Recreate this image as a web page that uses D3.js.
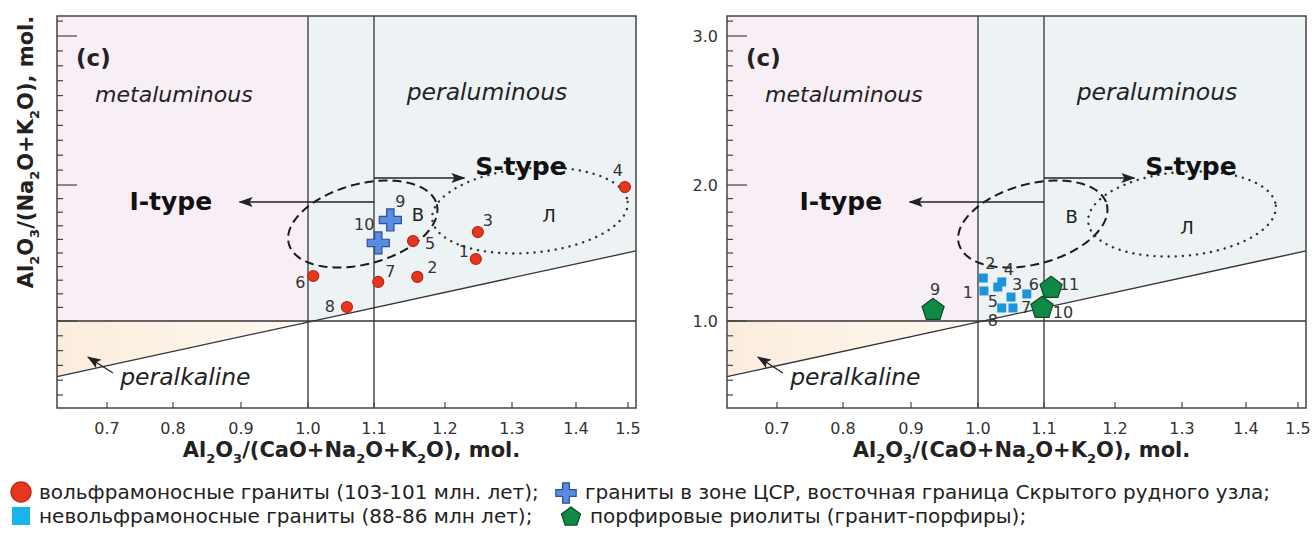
<!DOCTYPE html>
<html>
<head>
<meta charset="utf-8">
<script src="https://cdn.jsdelivr.net/npm/d3@7"></script>
<style>
  body { margin: 0; background: #fff; }
  svg { display: block; font-family: 'DejaVu Sans', sans-serif; }
</style>
</head>
<body>
<svg id="chart" width="1313" height="539"></svg>
<script>
// ---- data ----
const xTickValues = [0.7, 0.8, 0.9, 1.0, 1.1, 1.2, 1.3, 1.4, 1.5];
const xTickLabels = ['0.7', '0.8', '0.9', '1.0', '1.1', '1.2', '1.3', '1.4', '1.5'];
const yMajorTicks = [1.0, 2.0, 3.0];
const yTickLabels = ['1.0', '2.0', '3.0'];

// tungsten-bearing granites (103-101 Ma)
const wGraniteIds  = ['1', '2', '3', '4', '5', '6', '7', '8'];
const wGraniteACNK = [1.246, 1.161, 1.249, 1.494, 1.155, 1.008, 1.106, 1.059];
const wGraniteANK  = [1.456, 1.324, 1.654, 1.985, 1.588, 1.331, 1.287, 1.103];

// granites of the CSR zone
const csrIds  = ['9', '10'];
const csrACNK = [1.123, 1.106];
const csrANK  = [1.743, 1.574];

// non tungsten-bearing granites (88-86 Ma)
const nwGraniteIds  = ['1', '2', '3', '4', '5', '6', '7', '8'];
const nwGraniteACNK = [1.009, 1.008, 1.050, 1.036, 1.036, 1.074, 1.053, 1.030];
const nwGraniteANK  = [1.221, 1.316, 1.176, 1.287, 1.096, 1.199, 1.096, 1.250];

// porphyry rhyolites
const rhyoliteIds  = ['9', '11', '10'];
const rhyoliteACNK = [0.933, 1.110, 1.097];
const rhyoliteANK  = [1.081, 1.243, 1.096];

const legendLabels = [
  'вольфрамоносные граниты (103-101 млн. лет);',
  'граниты в зоне ЦСР, восточная граница Скрытого рудного узла;',
  'невольфрамоносные граниты (88-86 млн лет);',
  'порфировые риолиты (гранит-порфиры);'
];

// ---- layout ----
const svg = d3.select('#chart');
const panelW = 579, panelH = 392, panelTop = 16;

const x = d3.scaleLinear().domain(xTickValues)
  .range([50, 116, 184, 251, 317, 388, 455, 519, 571]);
const y = d3.scaleLinear().domain([0.5, 1, 2, 3]).range([379, 305, 169, 20]);
const xMin = x.invert(0), xMax = x.invert(panelW);
const yMin = y.invert(panelH), yMax = y.invert(0);

const colors = {
  pink: '#f8eef6', blue: '#edf2f5',
  red: '#e8351d', redStroke: '#b3261a',
  cross: '#5a8de0', crossStroke: '#2b4f9e',
  square: '#1c94dc',
  green: '#0f8a46', greenStroke: '#0a4a27'
};

const symbolPentagon = {
  draw(context, size) {
    const r = Math.sqrt(size);
    for (let k = 0; k < 5; k++) {
      const a = -Math.PI / 2 + k * 2 * Math.PI / 5;
      if (k) context.lineTo(r * Math.cos(a), r * Math.sin(a));
      else context.moveTo(r * Math.cos(a), r * Math.sin(a));
    }
    context.closePath();
  }
};

const series = {
  wGranite:  { ids: wGraniteIds, xs: wGraniteACNK, ys: wGraniteANK, type: d3.symbolCircle, size: 95, fill: colors.red, stroke: colors.redStroke },
  csr:       { ids: csrIds, xs: csrACNK, ys: csrANK, type: d3.symbolCross, size: 270, fill: colors.cross, stroke: colors.crossStroke },
  nwGranite: { ids: nwGraniteIds, xs: nwGraniteACNK, ys: nwGraniteANK, type: d3.symbolSquare, size: 81, fill: colors.square, stroke: 'none' },
  rhyolite:  { ids: rhyoliteIds, xs: rhyoliteACNK, ys: rhyoliteANK, type: symbolPentagon, size: 135, fill: colors.green, stroke: colors.greenStroke }
};

// label offsets from the marker, px
const labelShift = {
  wGranite: { 1: [-12, -7], 2: [15, -9], 3: [10, -12], 4: [-7, -17], 5: [17, 2], 6: [-13, 7], 7: [12, -10], 8: [-17, 0] },
  csr: { 9: [10, -18], 10: [-14, -18] },
  nwGranite: { 1: [-16, 2], 2: [7, -15], 3: [6, -13], 4: [7, -12], 5: [-9, -6], 6: [7, -9], 7: [13, 0], 8: [-5, 33] },
  rhyolite: { 9: [2, -20], 10: [21, 5], 11: [18, -3] }
};

const panels = [
  { left: 57, series: ['wGranite', 'csr'], yTitle: true, yLabels: false,
    vText: [1.162, 1.78], lText: [1.358, 1.779],
    dotted: { cx: 1.328, cy: 1.8125, rx: 0.172, ry: 0.30, tilt: -5 } },
  { left: 727, series: ['nwGranite', 'rhyolite'], yTitle: false, yLabels: true,
    vText: [1.139, 1.765], lText: [1.308, 1.684],
    dotted: { cx: 1.30, cy: 1.787, rx: 0.158, ry: 0.30, tilt: -5 } }
];
const dashed = { cx: 1.083, cy: 1.713, rx: 0.109, ry: 0.294, tilt: -15 };

// ---- defs ----
const defs = svg.append('defs');
defs.append('marker').attr('id', 'arrowHead')
  .attr('viewBox', '0 0 14 10').attr('refX', 13).attr('refY', 5)
  .attr('markerWidth', 14).attr('markerHeight', 10)
  .attr('markerUnits', 'userSpaceOnUse').attr('orient', 'auto')
  .append('path').attr('d', 'M0,0 L14,5 L0,10 L3,5 Z').attr('fill', '#222');
const grad = defs.append('linearGradient').attr('id', 'peach');
grad.append('stop').attr('offset', '0%').attr('stop-color', '#fbeddd');
grad.append('stop').attr('offset', '70%').attr('stop-color', '#fdf4ea');
grad.append('stop').attr('offset', '100%').attr('stop-color', '#fef9f4');

// text with "_d" subscripts
function richText(sel, str, fs) {
  const shift = fs * 0.28;
  let sub = false;
  str.split(/(_\d)/).filter(s => s).forEach(p => {
    if (p[0] === '_') {
      sel.append('tspan').attr('dy', shift).attr('font-size', fs * 0.62).text(p.slice(1));
      sub = true;
    } else {
      sel.append('tspan').attr('dy', sub ? -shift : 0).text(p);
      sub = false;
    }
  });
  return sel;
}

function ellipsePath(e) {
  const cx = x(e.cx), cy = y(e.cy);
  const rx = x(e.cx + e.rx) - cx, ry = cy - y(e.cy + e.ry);
  const a = e.tilt * Math.PI / 180;
  const pts = d3.range(0, 2 * Math.PI, Math.PI / 90).map(t => {
    const u = rx * Math.cos(t), v = ry * Math.sin(t);
    return [cx + u * Math.cos(a) - v * Math.sin(a), cy + u * Math.sin(a) + v * Math.cos(a)];
  });
  return d3.line()(pts) + 'Z';
}

const line = d3.line().x(d => x(d[0])).y(d => y(d[1]));

panels.forEach(p => {
  const g = svg.append('g').attr('transform', `translate(${p.left},${panelTop})`);

  // fields
  g.append('path').attr('fill', colors.pink)
    .attr('d', line([[xMin, 1], [1, 1], [1, yMax], [xMin, yMax]]) + 'Z');
  g.append('path').attr('fill', colors.blue)
    .attr('d', line([[1, 1], [xMax, xMax], [xMax, yMax], [1, yMax]]) + 'Z');
  g.append('path').attr('fill', 'url(#peach)')
    .attr('d', line([[xMin, 1], [1, 1], [xMin, xMin]]) + 'Z');

  // dividing lines
  const ink = '#333';
  g.append('path').attr('d', line([[xMin, xMin], [xMax, xMax]]))
    .attr('stroke', ink).attr('stroke-width', 1.3).attr('fill', 'none');
  g.append('path').attr('d', line([[xMin, 1], [xMax, 1]]))
    .attr('stroke', ink).attr('stroke-width', 1.3);
  [1.0, 1.1].forEach(v => g.append('path').attr('d', line([[v, yMin], [v, yMax]]))
    .attr('stroke', ink).attr('stroke-width', 1.3));

  // I- and S-type fields
  g.append('path').attr('d', ellipsePath(dashed)).attr('fill', 'none')
    .attr('stroke', '#1a1a1a').attr('stroke-width', 2).attr('stroke-dasharray', '9,5');
  g.append('path').attr('d', ellipsePath(p.dotted)).attr('fill', 'none')
    .attr('stroke', '#333').attr('stroke-width', 2.4).attr('stroke-linecap', 'round')
    .attr('stroke-dasharray', '0.1,7');

  // arrows
  const arrows = [
    [[1.1, 1.875], [0.898, 1.875]],
    [[1.1, 2.047], [1.229, 2.047]],
    [[0.709, 0.649], [0.671, 0.757]]
  ];
  arrows.forEach(a => g.append('path').attr('d', line(a)).attr('stroke', '#222')
    .attr('stroke-width', 1.3).attr('fill', 'none').attr('marker-end', 'url(#arrowHead)'));

  // annotations
  const ann = (txt, pos, opts) => g.append('text')
    .attr('x', x(pos[0])).attr('y', y(pos[1]))
    .attr('font-size', opts.fs).attr('font-style', opts.italic ? 'italic' : null)
    .attr('font-weight', opts.bold ? 'bold' : null)
    .attr('text-anchor', opts.anchor || 'start')
    .attr('dominant-baseline', opts.mid ? 'central' : null)
    .attr('fill', opts.fill || '#222').text(txt);
  ann('metaluminous', [0.682, 2.557], { fs: 22, italic: true });
  ann('peraluminous', [1.146, 2.57], { fs: 23.5, italic: true });
  ann('peralkaline', [0.72, 0.568], { fs: 23.5, italic: true });
  ann('I-type', [0.734, 1.816], { fs: 25, bold: true, fill: '#111' });
  ann('S-type', [1.245, 2.067], { fs: 25, bold: true, fill: '#111' });
  ann('В', p.vText, { fs: 18, anchor: 'middle', mid: true });
  ann('Л', p.lText, { fs: 18, anchor: 'middle', mid: true });
  g.append('text').attr('x', 19).attr('y', 50).attr('font-size', 23)
    .attr('font-weight', 'bold').attr('fill', '#222').text('(c)');

  // data points
  p.series.forEach(key => {
    const s = series[key];
    const pts = s.ids.map((id, i) => ({ id, a: s.xs[i], b: s.ys[i] }));
    g.append('g').selectAll('path').data(pts).enter().append('path')
      .attr('transform', d => `translate(${x(d.a)},${y(d.b)})`)
      .attr('d', d3.symbol(s.type, s.size))
      .attr('fill', s.fill).attr('stroke', s.stroke).attr('stroke-width', 1.2);
    g.append('g').selectAll('text').data(pts).enter().append('text')
      .attr('x', d => x(d.a) + labelShift[key][d.id][0])
      .attr('y', d => y(d.b) + labelShift[key][d.id][1])
      .attr('text-anchor', 'middle').attr('dominant-baseline', 'central')
      .attr('font-size', 16).attr('fill', '#333').text(d => d.id);
  });

  // frame
  g.append('rect').attr('width', panelW).attr('height', panelH)
    .attr('fill', 'none').attr('stroke', '#444').attr('stroke-width', 1.5);

  // y ticks (inward)
  const yMinor = d3.range(5, 32).map(v => v / 10);
  g.append('g').selectAll('line').data(yMinor).enter().append('line')
    .attr('x1', 0).attr('x2', d => yMajorTicks.some(m => Math.abs(m - d) < 1e-6) ? 20 : 6)
    .attr('y1', d => y(d)).attr('y2', d => y(d))
    .attr('stroke', '#444').attr('stroke-width', 1.2);

  // x ticks (inward)
  g.append('g').selectAll('line').data(xTickValues).enter().append('line')
    .attr('x1', d => x(d)).attr('x2', d => x(d))
    .attr('y1', panelH).attr('y2', panelH - 6)
    .attr('stroke', '#444').attr('stroke-width', 1.2);
  g.append('g').selectAll('text').data(xTickValues).enter().append('text')
    .attr('x', d => x(d)).attr('y', panelH + 26).attr('text-anchor', 'middle')
    .attr('font-size', 16).attr('fill', '#333').text((d, i) => xTickLabels[i]);

  if (p.yLabels) {
    g.append('g').selectAll('text').data(yMajorTicks).enter().append('text')
      .attr('x', -9).attr('y', d => y(d)).attr('text-anchor', 'end')
      .attr('dominant-baseline', 'central')
      .attr('font-size', 16).attr('fill', '#333').text((d, i) => yTickLabels[i]);
  }

  // axis titles
  richText(g.append('text').attr('x', panelW / 2 + 5).attr('y', panelH + 49)
    .attr('text-anchor', 'middle').attr('font-size', 21).attr('font-weight', 'bold').attr('fill', '#222'),
    'Al_2O_3/(CaO+Na_2O+K_2O), mol.', 21);
  if (p.yTitle) {
    richText(g.append('text').attr('transform', `translate(-24,136) rotate(-90)`)
      .attr('text-anchor', 'middle').attr('font-size', 21).attr('font-weight', 'bold').attr('fill', '#222'),
      'Al_2O_3/(Na_2O+K_2O), mol.', 21);
  }
});

// ---- legend ----
const legendItems = [
  { key: 'wGranite', at: [21, 492], size: 320, text: [39, 499] },
  { key: 'csr', at: [566, 493], size: 230, text: [585, 499] },
  { key: 'nwGranite', at: [21, 516], size: 324, text: [39, 523] },
  { key: 'rhyolite', at: [571, 517], size: 100, text: [590, 523] }
];
const legend = svg.append('g');
legendItems.forEach((it, i) => {
  const s = series[it.key];
  legend.append('path').attr('transform', `translate(${it.at[0]},${it.at[1]})`)
    .attr('d', d3.symbol(s.type, it.size))
    .attr('fill', it.key === 'nwGranite' ? '#18b4ea' : s.fill)
    .attr('stroke', s.stroke).attr('stroke-width', 1.2);
  legend.append('text').attr('x', it.text[0]).attr('y', it.text[1])
    .attr('font-size', 20).attr('fill', '#222').text(legendLabels[i]);
});
</script>
</body>
</html>
